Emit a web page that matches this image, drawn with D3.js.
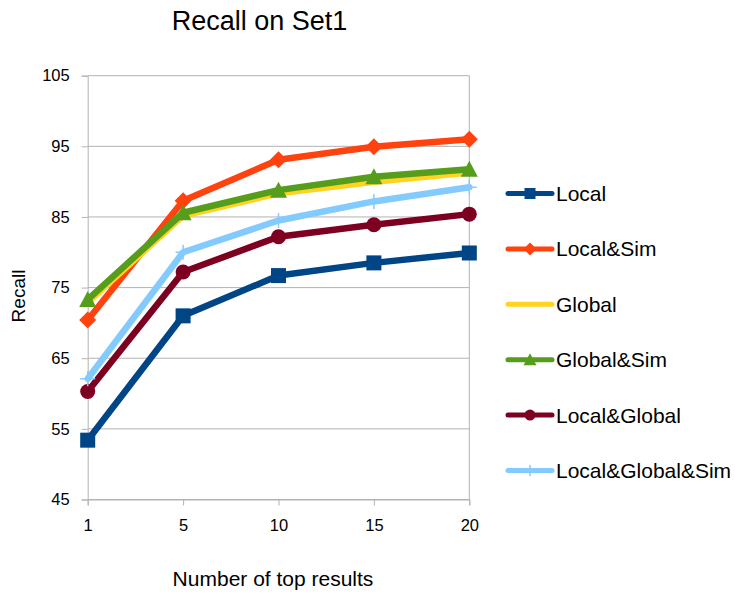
<!DOCTYPE html>
<html><head><meta charset="utf-8">
<script src="https://cdn.jsdelivr.net/npm/d3@7"></script>
<style>body{margin:0;background:#fff;} svg{display:block;font-family:"Liberation Sans",Arial,sans-serif;}</style>
</head><body>
<script>
const categories = ["1","5","10","15","20"];
const yTicks = [45,55,65,75,85,95,105];
const seriesNames = ["Local","Local&Sim","Global","Global&Sim","Local&Global","Local&Global&Sim"];
const local = [53.4, 71.0, 76.7, 78.5, 79.9];
const localSim = [70.4, 87.3, 93.1, 94.95, 96.0];
const global = [72.9, 85.2, 88.35, 90.0, 91.3];
const globalSim = [73.3, 85.6, 88.8, 90.7, 91.75];
const localGlobal = [60.3, 77.2, 82.2, 83.9, 85.4];
const localGlobalSim = [62.1, 80.0, 84.5, 87.2, 89.2];
const seriesValues = [local, localSim, global, globalSim, localGlobal, localGlobalSim];
const colors = ["#004586","#ff420e","#ffd320","#579d1c","#7e0021","#83caff"];
const markers = ["square","diamond","none","triangle","circle","plus"];

const W=735,H=597;
const L=87.7,R=469.3,T=75.7,B=499.5;
const svg=d3.select("body").append("svg").attr("width",W).attr("height",H);
const x=d3.scalePoint().domain(categories).range([L,R]).padding(0);
const y=d3.scaleLinear().domain([45,105]).range([B,T]);

svg.append("g").selectAll("line").data(yTicks).join("line")
  .attr("x1",L).attr("x2",R).attr("y1",d=>y(d)).attr("y2",d=>y(d))
  .attr("stroke","#b3b3b3").attr("stroke-width",1);
svg.append("line").attr("x1",R).attr("x2",R).attr("y1",T).attr("y2",B).attr("stroke","#b3b3b3");

const yAxis=svg.append("g").attr("transform",`translate(${L},0)`)
  .call(d3.axisLeft(y).tickValues(yTicks).tickSize(6).tickPadding(12));
const xAxis=svg.append("g").attr("transform",`translate(0,${B})`)
  .call(d3.axisBottom(x).tickSize(6).tickPadding(14));
[yAxis,xAxis].forEach(a=>{
  a.selectAll("path,line").attr("stroke","#b3b3b3");
  a.selectAll("text").attr("font-size","16.5px").attr("fill","#000").attr("font-family","Liberation Sans, Arial, sans-serif");
});

function drawMarker(g,type,cx,cy,s,color){
  if(type==="square") g.append("rect").attr("x",cx-s/2).attr("y",cy-s/2).attr("width",s).attr("height",s).attr("fill",color);
  else if(type==="diamond") g.append("path").attr("d",`M${cx},${cy-s/2-1}L${cx+s/2+1},${cy}L${cx},${cy+s/2+1}L${cx-s/2-1},${cy}Z`).attr("fill",color);
  else if(type==="triangle") g.append("path").attr("d",`M${cx},${cy-s/2-1}L${cx+s/2+1},${cy+s/2}L${cx-s/2-1},${cy+s/2}Z`).attr("fill",color);
  else if(type==="circle") g.append("circle").attr("cx",cx).attr("cy",cy).attr("r",s/2).attr("fill",color);
  else if(type==="plus") g.append("path").attr("d",`M${cx-s/2},${cy}H${cx+s/2}M${cx},${cy-s/2}V${cy+s/2}`).attr("stroke",color).attr("stroke-width",1.5);
}

const line=d3.line().x((d,i)=>x(categories[i])).y(d=>y(d));
seriesValues.forEach((vals,si)=>{
  const g=svg.append("g");
  g.append("path").datum(vals).attr("d",line).attr("fill","none")
    .attr("stroke",colors[si]).attr("stroke-width",6.5).attr("stroke-linejoin","round").attr("stroke-linecap","round");
  vals.forEach((v,i)=>drawMarker(g,markers[si],x(categories[i]),y(v),15,colors[si]));
});

const lg=svg.append("g");
seriesNames.forEach((n,i)=>{
  const cy=193.5+i*55.4;
  lg.append("line").attr("x1",508).attr("x2",552).attr("y1",cy).attr("y2",cy)
    .attr("stroke",colors[i]).attr("stroke-width",5).attr("stroke-linecap","round");
  drawMarker(lg,markers[i],530,cy,11,colors[i]);
  lg.append("text").attr("x",556).attr("y",cy+7.5).attr("font-size","21px").text(n);
});

svg.append("text").attr("x",259.5).attr("y",30).attr("text-anchor","middle").attr("font-size","27px").text("Recall on Set1");
svg.append("text").attr("x",273).attr("y",586).attr("text-anchor","middle").attr("font-size","21px").text("Number of top results");
svg.append("text").attr("transform","translate(25,296) rotate(-90)").attr("text-anchor","middle").attr("font-size","19px").text("Recall");
</script>
</body></html>
